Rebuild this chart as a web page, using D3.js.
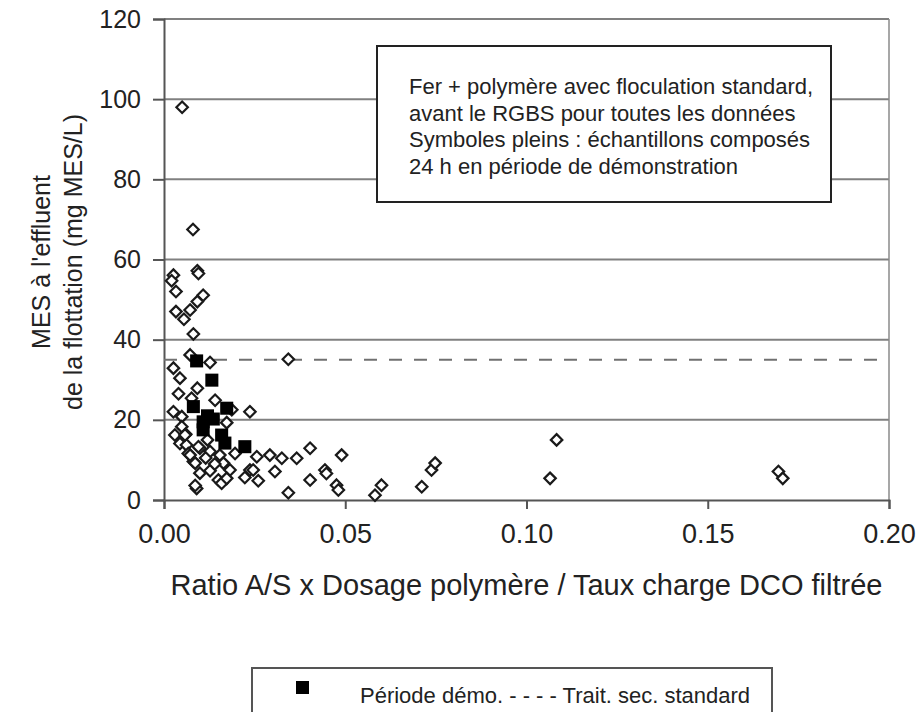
<!DOCTYPE html>
<html>
<head>
<meta charset="utf-8">
<script src="https://cdn.jsdelivr.net/npm/d3@7"></script>
<style>
  body { margin: 0; background: #fff; }
  text { font-family: "Liberation Sans", Arial, sans-serif; fill: #222; }
</style>
</head>
<body>
<script>
// hollow diamonds: all samples (x = ratio, y = MES mg/L)
var hollowX = [0.0050, 0.0080, 0.0092, 0.0095, 0.0026, 0.0021, 0.0033, 0.0108, 0.0092, 0.0072,
  0.0033, 0.0055, 0.0081, 0.0072, 0.0127, 0.0343, 0.0026, 0.0044, 0.0092, 0.0076,
  0.0141, 0.0187, 0.0237, 0.0026, 0.0049, 0.0049, 0.0173, 0.0030, 0.0060, 0.0044,
  0.0062, 0.0067, 0.0099, 0.0127, 0.0081, 0.0154, 0.0164, 0.0196, 0.0256, 0.0292,
  0.0325, 0.0366, 0.0403, 0.0490, 0.0099, 0.0127, 0.0150, 0.0159, 0.0182, 0.0173,
  0.0237, 0.0223, 0.0246, 0.0260, 0.0306, 0.0090, 0.0086, 0.0343, 0.0403, 0.0444,
  0.0448, 0.0476, 0.0481, 0.0582, 0.0600, 0.0711, 0.0738, 0.0748, 0.1083, 0.1065,
  0.1695, 0.1707, 0.0086, 0.0072, 0.0095, 0.0058, 0.0115, 0.0140, 0.0120, 0.0040];
var hollowY = [98.0, 67.5, 57.2, 56.5, 56.1, 54.7, 52.0, 51.1, 49.5, 47.4,
  47.0, 45.1, 41.4, 36.2, 34.3, 35.1, 32.9, 30.4, 27.9, 25.4,
  24.9, 22.5, 22.0, 22.0, 20.8, 18.3, 19.3, 16.2, 16.4, 14.1,
  13.7, 11.6, 12.9, 12.1, 9.6, 11.2, 9.2, 11.6, 10.8, 11.2,
  10.4, 10.4, 12.9, 11.2, 6.7, 7.3, 5.0, 4.2, 7.5, 5.4,
  7.5, 5.6, 7.5, 4.8, 7.1, 2.9, 3.6, 1.8, 5.0, 7.5,
  6.6, 3.7, 2.5, 1.2, 3.7, 3.3, 7.5, 9.2, 15.0, 5.4,
  7.1, 5.4, 9.2, 11.2, 13.3, 16.2, 10.5, 9.0, 15.0, 26.5];

// filled squares: 24 h composites, demonstration period
var demoX = [0.0090, 0.0132, 0.0081, 0.0173, 0.0108, 0.0136, 0.0108, 0.0159, 0.0168, 0.0223, 0.0120];
var demoY = [34.7, 29.9, 23.3, 22.9, 19.5, 20.2, 17.5, 16.2, 14.2, 13.3, 21.0];

var standardLevel = 35;   // trait. sec. standard
var xTicks = [0, 0.05, 0.10, 0.15, 0.20];
var yTicks = [0, 20, 40, 60, 80, 100, 120];

var noteLines = [
  "Fer + polymère avec floculation standard,",
  "avant le RGBS pour toutes les données",
  "Symboles pleins : échantillons composés",
  "24 h en période de démonstration"
];

var svgWidth = 923, svgHeight = 712;
var margin = { top: 19, left: 164, right: 34, bottom: 212 };
var chartWidth = svgWidth - margin.left - margin.right;
var chartHeight = svgHeight - margin.top - margin.bottom;

var svg = d3.select("body").append("svg")
  .attr("width", svgWidth)
  .attr("height", svgHeight);

svg.append("rect").attr("width", svgWidth).attr("height", svgHeight).attr("fill", "#fff");

var chartGroup = svg.append("g")
  .attr("transform", `translate(${margin.left}, ${margin.top})`);

var xScale = d3.scaleLinear().domain([0, 0.20]).range([0, chartWidth]);
var yScale = d3.scaleLinear().domain([0, 120]).range([chartHeight, 0]);

// horizontal gridlines
chartGroup.selectAll(".grid")
  .data(yTicks.slice(1))
  .enter()
  .append("line")
  .attr("x1", 0).attr("x2", chartWidth)
  .attr("y1", d => yScale(d)).attr("y2", d => yScale(d))
  .attr("stroke", "#808080")
  .attr("stroke-width", 2);

// right border of plot area
chartGroup.append("line")
  .attr("x1", chartWidth).attr("x2", chartWidth)
  .attr("y1", 0).attr("y2", chartHeight)
  .attr("stroke", "#8a8a8a").attr("stroke-width", 1.5);

// axes
var bottomAxis = d3.axisBottom(xScale).tickValues(xTicks).tickFormat(d3.format(".2f")).tickSize(9).tickPadding(8);
var leftAxis = d3.axisLeft(yScale).tickValues(yTicks).tickSize(11).tickPadding(12);

var xAxis = chartGroup.append("g")
  .attr("transform", `translate(0, ${chartHeight})`)
  .call(bottomAxis);
var yAxis = chartGroup.append("g").call(leftAxis);

[xAxis, yAxis].forEach(function(ax) {
  ax.select(".domain").attr("stroke", "#555").attr("stroke-width", 2);
  ax.selectAll(".tick line").attr("stroke", "#555").attr("stroke-width", 2);
  ax.selectAll(".tick text")
    .attr("font-family", "Liberation Sans, Arial, sans-serif")
    .attr("font-size", 25)
    .attr("fill", "#222");
});
xAxis.selectAll(".tick text").attr("font-size", 27).attr("dy", "0.95em");

// standard treatment dashed line
chartGroup.append("line")
  .attr("x1", xScale(0)).attr("x2", xScale(0.20))
  .attr("y1", yScale(standardLevel)).attr("y2", yScale(standardLevel))
  .attr("stroke", "#707070")
  .attr("stroke-width", 2)
  .attr("stroke-dasharray", "13,12");

// hollow diamonds
var diamond = d3.symbol().type(d3.symbolDiamond2).size(84);
chartGroup.selectAll(".hollow")
  .data(d3.range(hollowX.length))
  .enter()
  .append("path")
  .attr("d", diamond)
  .attr("transform", i => `translate(${xScale(hollowX[i])}, ${yScale(hollowY[i])})`)
  .attr("fill", "#fff")
  .attr("stroke", "#1a1a1a")
  .attr("stroke-width", 2.2);

// filled squares
var square = d3.symbol().type(d3.symbolSquare).size(170);
chartGroup.selectAll(".demo")
  .data(d3.range(demoX.length))
  .enter()
  .append("path")
  .attr("d", square)
  .attr("transform", i => `translate(${xScale(demoX[i])}, ${yScale(demoY[i])})`)
  .attr("fill", "#000");

// note box
var note = svg.append("g");
note.append("rect")
  .attr("x", 377).attr("y", 46)
  .attr("width", 454).attr("height", 156)
  .attr("fill", "#fff")
  .attr("stroke", "#222")
  .attr("stroke-width", 2);
note.selectAll("text")
  .data(noteLines)
  .enter()
  .append("text")
  .attr("x", 409)
  .attr("y", (d, i) => 94 + i * 26.5)
  .attr("font-size", 22)
  .text(d => d);

// axis titles
svg.append("text")
  .attr("x", margin.left + chartWidth / 2)
  .attr("y", 595)
  .attr("text-anchor", "middle")
  .attr("font-size", 29)
  .text("Ratio A/S x Dosage polymère / Taux charge DCO filtrée");

var yTitle = svg.append("text")
  .attr("transform", "translate(0, 262) rotate(-90)")
  .attr("text-anchor", "middle")
  .attr("font-size", 25);
yTitle.append("tspan").attr("x", 0).attr("y", 50).text("MES à l'effluent");
yTitle.append("tspan").attr("x", 0).attr("y", 82).text("de la flottation (mg MES/L)");

// legend
var legend = svg.append("g");
legend.append("rect")
  .attr("x", 252).attr("y", 668)
  .attr("width", 520).attr("height", 52)
  .attr("fill", "#fff")
  .attr("stroke", "#555")
  .attr("stroke-width", 2);
legend.append("rect")
  .attr("x", 296).attr("y", 681)
  .attr("width", 13).attr("height", 13)
  .attr("fill", "#000");
legend.append("text")
  .attr("x", 360).attr("y", 703)
  .attr("font-size", 22)
  .text("Période démo. - - - - Trait. sec. standard");
</script>
</body>
</html>
